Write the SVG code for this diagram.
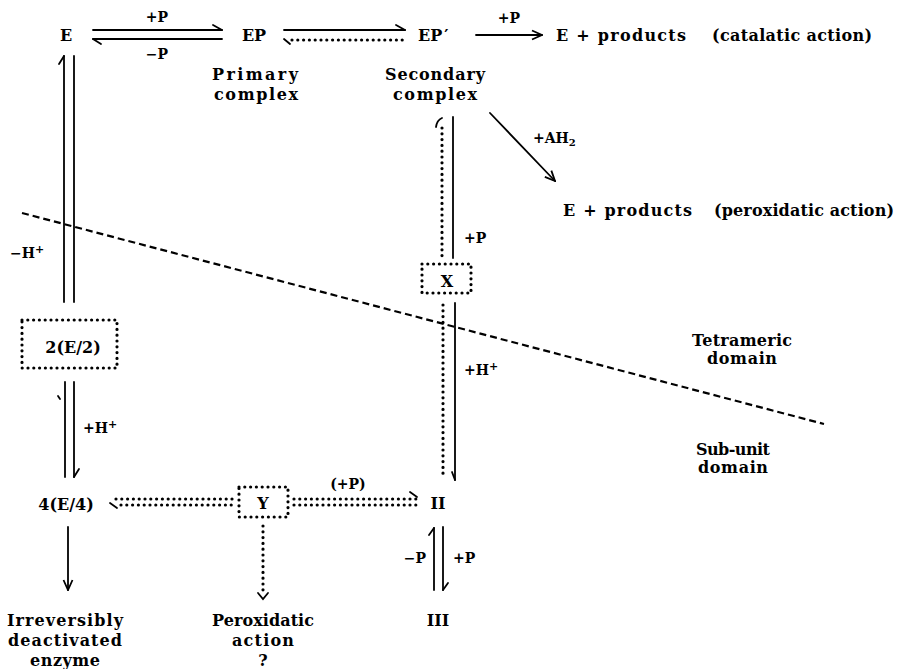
<svg xmlns="http://www.w3.org/2000/svg" width="900" height="669" viewBox="0 0 900 669">
<style>
  text { font-family: "DejaVu Serif", "Liberation Serif", serif; font-weight: bold; fill: #000; }
  .n { font-size: 16px; }
  .s { font-size: 14px; }
  .m { text-anchor: middle; }
  .e { text-anchor: end; }
  .ln { stroke: #000; stroke-width: 1.8; fill: none; stroke-linecap: round; }
  .dot { stroke: #000; stroke-width: 3.2; fill: none; stroke-linecap: round; stroke-dasharray: 0 5.8; }
  .dash { stroke: #000; stroke-width: 2.2; fill: none; stroke-dasharray: 7 4; }
</style>
<defs>
  <marker id="ah" viewBox="0 0 12 12" refX="11" refY="6" markerWidth="12" markerHeight="12" markerUnits="userSpaceOnUse" orient="auto">
    <path d="M1,1.5 L11,6 L1,10.5" fill="none" stroke="#000" stroke-width="1.8"/>
  </marker>
</defs>
<rect width="900" height="669" fill="#fff"/>

<g id="connectors">
  <!-- E <=> EP -->
  <line class="ln" x1="93" y1="30" x2="222" y2="30"/>
  <line class="ln" x1="213" y1="25" x2="222" y2="30"/>
  <line class="ln" x1="93" y1="39" x2="222" y2="39"/>
  <line class="ln" x1="93" y1="39" x2="101" y2="44"/>
  <!-- EP <=> EP' (dotted return) -->
  <line class="ln" x1="284" y1="30" x2="405" y2="30"/>
  <line class="ln" x1="396" y1="25" x2="405" y2="30"/>
  <line class="dot" x1="292" y1="40" x2="405" y2="40"/>
  <line class="ln" x1="284" y1="39" x2="290" y2="44"/>
  <!-- EP' -> E + products -->
  <line class="ln" x1="476" y1="35" x2="542" y2="35" marker-end="url(#ah)"/>
  <!-- diagonal -->
  <line class="ln" x1="490" y1="113" x2="555" y2="181" marker-end="url(#ah)"/>
  <!-- E <=> 2(E/2) -->
  <line class="ln" x1="64" y1="56" x2="64" y2="302"/>
  <line class="ln" x1="64" y1="56" x2="59" y2="64"/>
  <line class="ln" x1="74" y1="56" x2="74" y2="302"/>
  <!-- 2(E/2) <=> 4(E/4) -->
  <line class="ln" x1="65" y1="382" x2="65" y2="477"/>
  <line class="ln" x1="58" y1="396" x2="60" y2="399"/>
  <line class="ln" x1="74" y1="382" x2="74" y2="477"/>
  <line class="ln" x1="74" y1="477" x2="79" y2="469"/>
  <!-- EP' <=> X -->
  <line class="dot" x1="442" y1="128" x2="442" y2="258"/>
  <path class="ln" d="M436,127 Q437,120 442,118"/>
  <line class="ln" x1="453" y1="117" x2="453" y2="258"/>
  <!-- X <=> II -->
  <line class="dot" x1="443" y1="305" x2="443" y2="478"/>
  <line class="ln" x1="455" y1="303" x2="455" y2="480"/>
  <line class="ln" x1="455" y1="480" x2="452" y2="472"/>
  <!-- 4(E/4) <=> Y -->
  <line class="dot" x1="116" y1="499" x2="234" y2="499"/>
  <line class="dot" x1="121" y1="505" x2="234" y2="505"/>
  <line class="ln" x1="110" y1="503" x2="117" y2="508"/>
  <!-- Y <=> II -->
  <line class="dot" x1="294" y1="499" x2="416" y2="499"/>
  <line class="dot" x1="294" y1="505" x2="416" y2="505"/>
  <line class="ln" x1="410" y1="492" x2="417" y2="497"/>
  <!-- II <=> III -->
  <line class="ln" x1="434" y1="528" x2="434" y2="590"/>
  <line class="ln" x1="434" y1="528" x2="429" y2="535"/>
  <line class="ln" x1="443" y1="527" x2="443" y2="590"/>
  <line class="ln" x1="443" y1="590" x2="448" y2="583"/>
  <!-- 4(E/4) -> irreversible -->
  <line class="ln" x1="68" y1="527" x2="68" y2="590" marker-end="url(#ah)"/>
  <!-- Y -> peroxidatic -->
  <line class="dot" x1="263" y1="526" x2="263" y2="592"/>
  <path class="ln" d="M258,593 L263,599 L268,593"/>
  <!-- domain boundary -->
  <line class="dash" x1="22" y1="213" x2="824" y2="424"/>
</g>

<g id="labels">
  <text class="s m" x="157" y="22">+P</text>
  <text class="s m" x="157" y="59">−P</text>
  <text class="s m" x="509" y="23">+P</text>
  <text class="s" x="533" y="143">+AH<tspan font-size="10" dy="3">2</tspan></text>
  <text class="s" x="10" y="258">−H<tspan font-size="11" dy="-5">+</tspan></text>
  <text class="s" x="83" y="433">+H<tspan font-size="11" dy="-5">+</tspan></text>
  <text class="s" x="464" y="243">+P</text>
  <text class="s" x="464" y="375">+H<tspan font-size="11" dy="-5">+</tspan></text>
  <text class="s m" x="348" y="489">(+P)</text>
  <text class="s e" x="426" y="563">−P</text>
  <text class="s" x="453" y="563">+P</text>
</g>

<g id="node-E"><text class="n m" x="66" y="41" font-size="17">E</text></g>
<g id="node-EP">
  <text class="n m" x="254" y="41">EP</text>
  <text class="n m" x="255" y="80" textLength="86">Primary</text>
  <text class="n m" x="256" y="100" textLength="84">complex</text>
</g>
<g id="node-EPprime">
  <text class="n" x="418" y="41">EP<tspan dx="2">′</tspan></text>
  <text class="n m" x="435" y="80" textLength="100">Secondary</text>
  <text class="n m" x="435" y="100" textLength="84">complex</text>
</g>
<g id="node-products-catalatic">
  <text class="n" x="556" y="41" textLength="130">E + products</text>
  <text class="n" x="712" y="41" textLength="160">(catalatic action)</text>
</g>
<g id="node-products-peroxidatic">
  <text class="n" x="563" y="216" textLength="129">E + products</text>
  <text class="n" x="714" y="216" textLength="180">(peroxidatic action)</text>
</g>
<g id="node-E2">
  <rect class="dot" x="22" y="320" width="95" height="48" fill="none"/>
  <text class="n m" x="73" y="353">2(E/2)</text>
</g>
<g id="node-X">
  <rect class="dot" x="422" y="264" width="49" height="29" fill="none"/>
  <text class="n m" x="447" y="287">X</text>
</g>
<g id="node-E4"><text class="n m" x="66" y="510">4(E/4)</text></g>
<g id="node-Y">
  <rect class="dot" x="239" y="487" width="49" height="30" fill="none"/>
  <text class="n m" x="263" y="509">Y</text>
</g>
<g id="node-II"><text class="n m" x="438" y="509">II</text></g>
<g id="node-III"><text class="n m" x="438" y="626">III</text></g>
<g id="node-irreversible">
  <text class="n m" x="65" y="626" textLength="116">Irreversibly</text>
  <text class="n m" x="65" y="646" textLength="114">deactivated</text>
  <text class="n m" x="65" y="666" textLength="70">enzyme</text>
</g>
<g id="node-peroxidatic">
  <text class="n m" x="263" y="626" textLength="102">Peroxidatic</text>
  <text class="n m" x="263" y="646" textLength="62">action</text>
  <text class="n m" x="263" y="666">?</text>
</g>
<g id="domain-tetrameric">
  <text class="n m" x="742" y="346" textLength="100">Tetrameric</text>
  <text class="n m" x="742" y="364" textLength="70">domain</text>
</g>
<g id="domain-subunit">
  <text class="n m" x="733" y="455" textLength="74">Sub-unit</text>
  <text class="n m" x="733" y="473" textLength="70">domain</text>
</g>
</svg>
